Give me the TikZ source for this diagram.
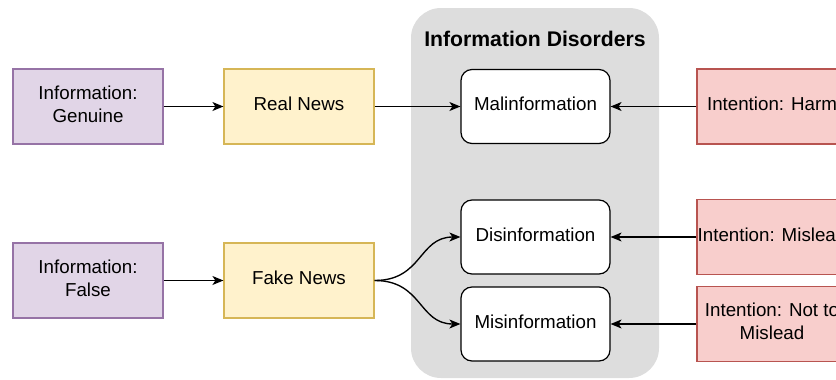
\documentclass[tikz,border=0pt]{standalone}
\usepackage{fontspec}
\setmainfont{Liberation Sans}
\usetikzlibrary{arrows.meta}
\definecolor{purpleFill}{HTML}{E1D5E7}
\definecolor{purpleLine}{HTML}{9673A6}
\definecolor{yellowFill}{HTML}{FFF2CC}
\definecolor{yellowLine}{HTML}{D6B656}
\definecolor{redFill}{HTML}{F8CECC}
\definecolor{redLine}{HTML}{B85450}
\definecolor{groupFill}{HTML}{DDDDDD}
\begin{document}
\begin{tikzpicture}[x=1pt,y=-1pt,
  every node/.style={font=\fontsize{18.75}{23}\selectfont, align=center, inner sep=0pt},
  box/.style={draw, line width=1.2pt, minimum width=150pt, minimum height=75pt},
  txt/.style={label={[yshift=2.5pt]center:#1}},
  source/.style={box, fill=purpleFill, draw=purpleLine},
  news/.style={box, fill=yellowFill, draw=yellowLine},
  disorder/.style={box, fill=white, draw=black, rounded corners=11pt, minimum width=149pt, minimum height=74pt},
  intent/.style={box, fill=redFill, draw=redLine},
  link/.style={line width=1.35pt, -{Stealth[length=11pt,width=9pt,inset=3pt]}}
]
\useasboundingbox (0,0) rectangle (836,380);
\clip (0,0) rectangle (836,380);

% grouping panel
\fill[groupFill, rounded corners=30pt] (411,8) rectangle (659,378);
\node[font=\fontsize{21.2}{25}\selectfont\bfseries] (title) at (535,39) {Information Disorders};

% source boxes
\node[source, txt={Information:\\Genuine}] (infoG) at (88,106.5) {};
\node[source, txt={Information:\\False}] (infoF) at (88,280.5) {};

% news boxes
\node[news, txt={Real News}] (real) at (299,106.5) {};
\node[news, txt={Fake News}] (fake) at (299,280.5) {};

% disorder boxes
\node[disorder, txt={Malinformation}] (mal) at (535.5,106.5) {};
\node[disorder, txt={Disinformation}] (dis) at (535.5,237) {};
\node[disorder, txt={Misinformation}] (mis) at (535.5,324) {};

% intention boxes
\node[intent, txt={Intention: Harm}] (harm) at (772,106.5) {};
\node[intent, txt={Intention: Mislead}] (mislead) at (772,237) {};
\node[intent, txt={Intention: Not to\\Mislead}] (notmislead) at (772,324) {};

% connectors
\draw[link] (infoG) -- (real);
\draw[link] (infoF) -- (fake);
\draw[link] (real) -- (mal);
\draw[link] (harm) -- (mal);
\draw[link] (mislead) -- (dis);
\draw[link] (notmislead) -- (mis);
\draw[link] (fake.east) .. controls +(48pt,0) and +(-42pt,0) .. (dis.west);
\draw[link] (fake.east) .. controls +(48pt,0) and +(-42pt,0) .. (mis.west);
\end{tikzpicture}
\end{document}
